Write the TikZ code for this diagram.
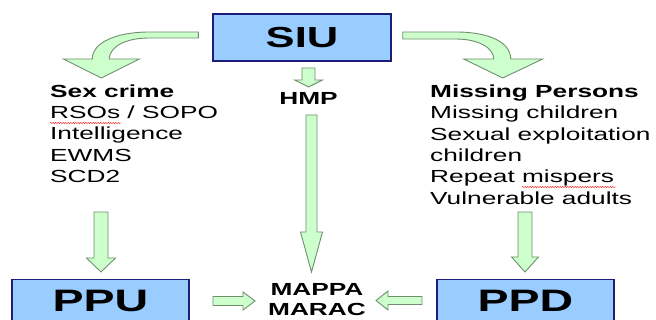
\documentclass[tikz,border=0pt]{standalone}
\usepackage{fontspec}
\setmainfont[FakeStretch=1.5]{Liberation Sans}
\usepackage{xcolor}
\usetikzlibrary{calc,decorations.pathmorphing}

\definecolor{unitfill}{HTML}{99CCFF}
\definecolor{unitline}{HTML}{1C1C7A}
\definecolor{arrfill}{HTML}{CCFFCC}
\definecolor{arrline}{HTML}{6F8F6F}

\tikzset{
    unit/.style={draw=unitline, fill=unitfill, line width=1.4pt, inner sep=0pt},
    txt/.style={font=\fontsize{17.5}{21.4}\selectfont, inner sep=0pt, align=left},
    head/.style={txt, align=center, font=\bfseries\fontsize{17.5}{20.5}\selectfont},
    arr/.style={fill=arrfill, draw=arrline, line width=0.9pt},
    block/.style n args={3}{arr, to path={
        ($(\tikztostart)!#1!90:(\tikztotarget)$)
        -- ($(\tikztotarget)!#3!(\tikztostart)!#1!-90:(\tikztostart)$)
        -- ($(\tikztotarget)!#3!(\tikztostart)!#2!-90:(\tikztostart)$)
        -- (\tikztotarget)
        -- ($(\tikztotarget)!#3!(\tikztostart)!#2!90:(\tikztostart)$)
        -- ($(\tikztotarget)!#3!(\tikztostart)!#1!90:(\tikztostart)$)
        -- ($(\tikztostart)!#1!-90:(\tikztotarget)$) -- cycle}},
    squiggle/.style={red, line width=0.4pt, decorate,
        decoration={snake, amplitude=0.6pt, segment length=2.5pt}}
}

\begin{document}
\begin{tikzpicture}[x=1pt, y=-1pt]
    \clip (0,0) rectangle (656,320);

    % Units
    \node[unit, minimum width=178pt, minimum height=47pt,
          font=\bfseries\fontsize{29}{30}\selectfont] (siu) at (302,37.5) {SIU};
    \node[unit, anchor=north, minimum width=177pt, inner ysep=8pt, text height=24pt, text depth=30pt,
          font=\bfseries\fontsize{31}{32}\selectfont] (ppu) at (100.5,279) {PPU};
    \node[unit, anchor=north, minimum width=177pt, inner ysep=8pt, text height=24pt, text depth=30pt,
          font=\bfseries\fontsize{31}{32}\selectfont] (ppd) at (525.5,279) {PPD};

    % Lists
    \node[txt, anchor=north west] (sex) at (50,84.3)
        {\textbf{Sex crime}\\RSOs / SOPO\\Intelligence\\EWMS\\SCD2};
    \node[txt, anchor=north west] (mis) at (430,84.5)
        {\textbf{Missing Persons}\\Missing children\\Sexual exploitation\\children\\Repeat mispers\\Vulnerable adults};
    \node[head] (hmp) at (308.5,98.5) {HMP};
    \node[head] (mappa) at (317,299.5) {MAPPA\\MARAC};

    \draw[squiggle] (50,123) -- (121,123);
    \draw[squiggle] (522,187) -- (616,187);

    % Curved arrows out of SIU
    \filldraw[arr, shift={(siu.west)}] (-14,-5.5) -- (-63,-5.5)
        .. controls (-95,-5.5) and (-120,4.5) .. (-120,21.5) -- (-149,21.5) -- (-111,40.5)
        -- (-73,21.5) -- (-103,21.5)
        .. controls (-103,10.5) and (-89,0.5) .. (-63,0.5) -- (-14,0.5) -- cycle;
    \filldraw[arr, shift={(siu.east)}] (11,-5.5) -- (64,-5.5)
        .. controls (97,-5.5) and (119,4.5) .. (119,21.5) -- (151,21.5) -- (111,40.5)
        -- (72,21.5) -- (102,21.5)
        .. controls (102,10.5) and (87,1.5) .. (64,1.5) -- (11,1.5) -- cycle;

    % Straight arrows
    \coordinate (hmpS) at (308.5,68);
    \coordinate (hmpT) at (308.5,87);
    \coordinate (mapS) at (311.5,115);
    \coordinate (mapT) at (311.5,272);
    \coordinate (ppuS) at (101,212);
    \coordinate (ppuT) at (101,272);
    \coordinate (ppdS) at (525,212);
    \coordinate (ppdT) at (525,272);
    \coordinate (leftS) at (213,301);
    \coordinate (leftT) at (255,301);
    \coordinate (rightS) at (422,300.5);
    \coordinate (rightT) at (376,300.5);

    \draw[block={6.5pt}{14pt}{7pt}] (hmpS) to (hmpT);
    \draw[block={5.5pt}{11pt}{40pt}] (mapS) to (mapT);
    \draw[block={7pt}{14.5pt}{14pt}] (ppuS) to (ppuT);
    \draw[block={7pt}{13.5pt}{15pt}] (ppdS) to (ppdT);
    \draw[block={4.5pt}{9pt}{12pt}] (leftS) to (leftT);
    \draw[block={4pt}{9.5pt}{12pt}] (rightS) to (rightT);
\end{tikzpicture}
\end{document}
